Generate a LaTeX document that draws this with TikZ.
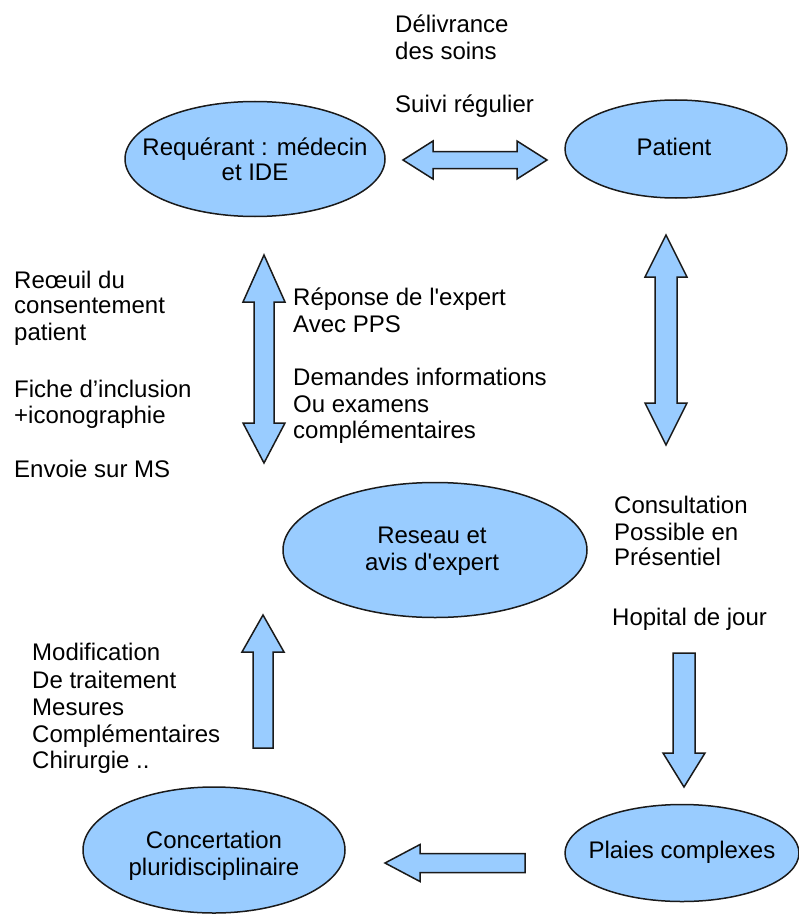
\documentclass[tikz,border=0pt]{standalone}
\usepackage{fontspec}
\setmainfont{Liberation Sans}
\usetikzlibrary{shapes.geometric}
\definecolor{fillblue}{HTML}{99CCFF}
\definecolor{edgecol}{HTML}{1A1A1A}
\tikzset{
  bubble/.style={ellipse, draw=edgecol, fill=fillblue, line width=1.5pt, inner sep=0pt},
  blockarrow/.style={draw=edgecol, fill=fillblue, line width=1.5pt, line join=miter},
  lbl/.style={anchor=base west, inner sep=0pt, font=\fontsize{24}{26}\selectfont, text=black},
  clbl/.style={anchor=base, inner sep=0pt, font=\fontsize{24}{26}\selectfont, text=black},
}
\begin{document}
\begin{tikzpicture}[x=1pt,y=-1pt]
\useasboundingbox (0,0) rectangle (798,915);

% ellipses
\node[bubble, minimum width=260pt, minimum height=115pt] (req) at (255,159) {};
\node[bubble, minimum width=222pt, minimum height=98pt] (pat) at (676,149) {};
\node[bubble, minimum width=304pt, minimum height=135pt] (res) at (435,550) {};
\node[bubble, minimum width=234pt, minimum height=97pt] (pla) at (682,853) {};
\node[bubble, minimum width=262pt, minimum height=126pt] (con) at (214,850) {};

% ellipse texts
\node[clbl] (req1) at (255,155) {Requérant : médecin};
\node[clbl] (req2) at (255,180) {et IDE};
\node[clbl] (pat1) at (674,155) {Patient};
\node[clbl] (res1) at (432,543) {Reseau et};
\node[clbl] (res2) at (432,570) {avis d\textquotesingle expert};
\node[clbl] (pla1) at (682,858) {Plaies complexes};
\node[clbl] (con1) at (214,848) {Concertation};
\node[clbl] (con2) at (214,875) {pluridisciplinaire};

% block arrows
\draw[blockarrow] (403,160) -- (433,141) -- (433,151.5) -- (517,151.5) -- (517,141) -- (547,160)
  -- (517,179) -- (517,168.5) -- (433,168.5) -- (433,179) -- cycle;
\draw[blockarrow] (264,255) -- (285,302) -- (274,302) -- (274,423) -- (285,423) -- (264,463)
  -- (243,423) -- (254,423) -- (254,302) -- (243,302) -- cycle;
\draw[blockarrow] (666,235) -- (687,277) -- (677,277) -- (677,403) -- (687,403) -- (666,445)
  -- (645,403) -- (655,403) -- (655,277) -- (645,277) -- cycle;
\draw[blockarrow] (263,615) -- (284,652) -- (273,652) -- (273,748) -- (253,748) -- (253,652)
  -- (242,652) -- cycle;
\draw[blockarrow] (673,653) -- (695,653) -- (695,753) -- (705,753) -- (684,787) -- (663,753)
  -- (673,753) -- cycle;
\draw[blockarrow] (385,863) -- (420,844.5) -- (420,853.5) -- (525,853.5) -- (525,872.5)
  -- (420,872.5) -- (420,881.5) -- cycle;

% top labels
\node[lbl] (d1) at (395,33) {Délivrance};
\node[lbl] (d2) at (395,60) {des soins};
\node[lbl] (d3) at (395,113) {Suivi régulier};

% left labels
\node[lbl] (l1) at (14,288) {Reœuil du};
\node[lbl] (l2) at (14,313) {consentement};
\node[lbl] (l3) at (14,340) {patient};
\node[lbl] (l4) at (14,397) {Fiche d’inclusion};
\node[lbl] (l5) at (14,423) {+iconographie};
\node[lbl] (l6) at (14,477) {Envoie sur MS};

% middle labels
\node[lbl] (m1) at (293,305) {Réponse de l\textquotesingle expert};
\node[lbl] (m2) at (293,332) {Avec PPS};
\node[lbl] (m3) at (293,385) {Demandes informations};
\node[lbl] (m4) at (293,412) {Ou examens};
\node[lbl] (m5) at (293,438) {complémentaires};

% right labels
\node[lbl] (r1) at (614,513) {Consultation};
\node[lbl] (r2) at (614,540) {Possible en};
\node[lbl] (r3) at (614,565) {Présentiel};
\node[lbl] (r4) at (612,625) {Hopital de jour};

% bottom-left labels
\node[lbl] (b1) at (32,660) {Modification};
\node[lbl] (b2) at (32,688) {De traitement};
\node[lbl] (b3) at (32,715) {Mesures};
\node[lbl] (b4) at (32,742) {Complémentaires};
\node[lbl] (b5) at (32,768) {Chirurgie ..};
\end{tikzpicture}
\end{document}
